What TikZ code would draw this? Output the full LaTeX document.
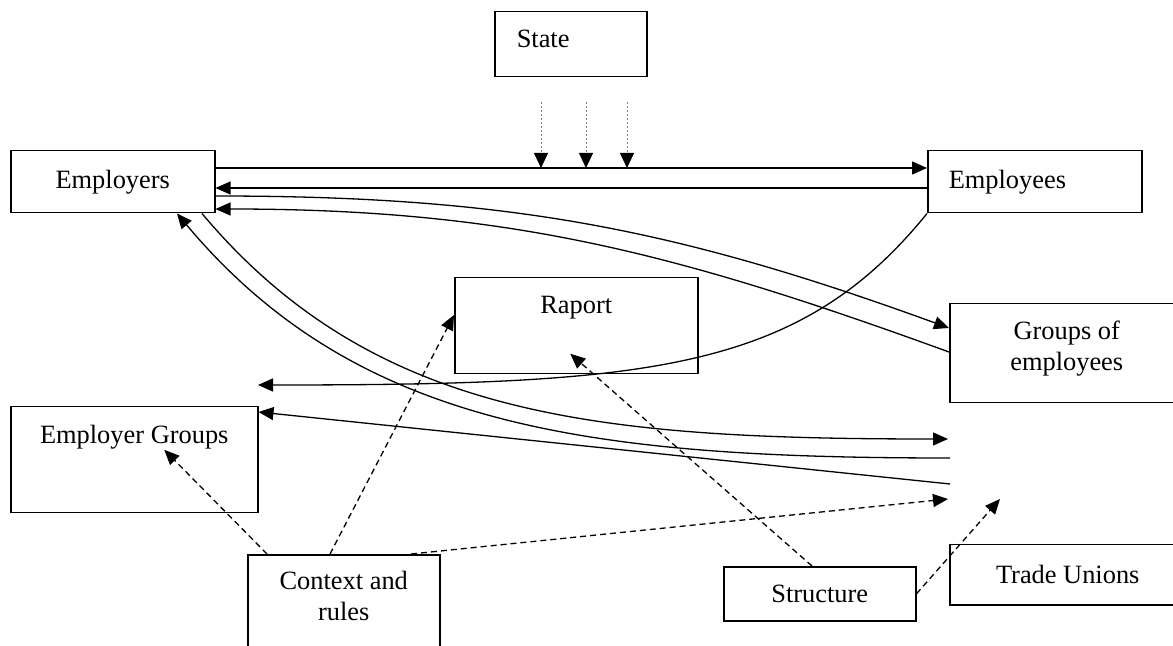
\documentclass[tikz,border=0pt]{standalone}
\usepackage{fontspec}
\setmainfont{Liberation Serif}
\usetikzlibrary{arrows.meta}
\begin{document}
\begin{tikzpicture}[x=0.5pt, y=-0.5pt,
  >={Triangle[length=7.5pt,width=6.5pt]},
  box/.style={draw, line width=0.75pt, anchor=north west, inner sep=0pt,
    font=\fontsize{13.2}{15.5}\selectfont},
  link/.style={->, line width=0.65pt},
  dlink/.style={->, line width=0.65pt, dash pattern=on 3pt off 2pt},
  ctrl/.style={-{Triangle[length=7.5pt,width=7pt,color=black]}, gray,
    line width=0.4pt, dash pattern=on 1pt off 1pt}]
\useasboundingbox (0,0) rectangle (1173,646);

\node[box, minimum width=76pt, minimum height=32.5pt, text width=54pt, align=left,
  text height=18pt, text depth=14.5pt] (state) at (494,11) {State};
\node[box, minimum width=102pt, minimum height=31pt] (employers) at (10,150) {Employers};
\node[box, minimum width=107pt, minimum height=31pt, text width=86pt, align=left]
  (employees) at (927,150) {Employees};
\node[box, minimum width=121.5pt, minimum height=48pt, text height=18pt, text depth=30pt]
  (raport) at (454,277) {Raport};
\node[box, minimum width=117pt, minimum height=49.5pt, align=center,
  text height=33.5pt, text depth=16pt] (groups) at (949,303) {Groups of\\employees};
\node[box, minimum width=123.5pt, minimum height=53pt, text height=18.5pt, text depth=34.5pt]
  (empgroups) at (10,406) {Employer Groups};
\node[box, minimum width=96pt, minimum height=70pt, align=center,
  text height=33pt, text depth=37pt] (context) at (247,554) {Context and\\rules};
\node[box, minimum width=96pt, minimum height=27pt] (structure) at (723,566) {Structure};
\node[box, minimum width=118pt, minimum height=30pt] (unions) at (949,544) {Trade Unions};

% loose ends
\coordinate (empfree) at (258,385);
\coordinate (tuarrow) at (948,439);
\coordinate (tuline) at (950,458);
\coordinate (tulow) at (950,484);
\coordinate (tudash) at (948,499);
\coordinate (tustruct) at (1000,499);

% state
\foreach \x [count=\i] in {541,586,627} {
  \coordinate (tap\i) at (\x,102);
  \draw[ctrl] (tap\i) -- (tap\i |- 0,168);
}

\draw[link] (employers.east |- 0,168) -- (employees.west |- 0,168);
\draw[link] (employees.west |- 0,188) -- (employers.east |- 0,188);
\draw[link] (employers.east |- 0,196) to[out=0,in=160] (groups.west |- 0,328);
\draw[link] (groups.west |- 0,352) to[out=160,in=0] (employers.east |- 0,209);
\draw[link] (employees.south west) to[out=-129,in=0,out looseness=0.75,in looseness=1.45] (empfree);

\draw[link] (202,0 |- employers.south) to[out=-50,in=180,out looseness=0.88,in looseness=1.15] (tuarrow);
\draw[link] (tuline) to[out=180,in=-50,out looseness=1.15,in looseness=0.88] (177,0 |- employers.south);
\draw[link] (tulow) -- (empgroups.east |- 0,412);

% dashed
\draw[dlink] (267,0 |- context.north) -- ([xshift=15pt,yshift=5pt]empgroups.center);
\draw[dlink] (330,0 |- context.north) -- (raport.west |- 0,315);
\draw[dlink] (411,0 |- context.north) -- (tudash);
\draw[dlink] (812,0 |- structure.north) -- ([xshift=-3pt,yshift=-14pt]raport.center);
\draw[dlink] (structure.east) -- (tustruct);
\end{tikzpicture}
\end{document}
